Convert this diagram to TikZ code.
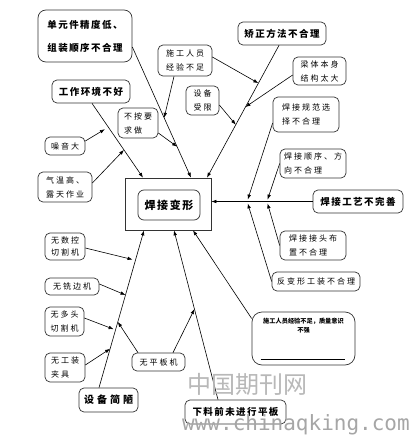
\documentclass[tikz,border=0pt]{standalone}
\usepackage{fontspec}
\setmainfont{Noto Sans CJK SC}
\newfontfamily\wmfont{DejaVu Sans Mono}
\usetikzlibrary{arrows.meta,calc}
\begin{document}
\begin{tikzpicture}[x=1pt,y=-1pt,
  box/.style={draw=black!80,line width=0.7pt,rounded corners=5pt,inner sep=0pt,align=left},
  lbl/.style={box,font=\fontsize{8}{14}\selectfont\addfontfeature{LetterSpace=25}},
  hd/.style={box,font=\fontsize{9.5}{14}\selectfont\bfseries\addfontfeature{LetterSpace=15}},
  con/.style={line width=0.6pt},
  arr/.style={con,-{Latex[length=5pt,width=3.6pt]}}]
\useasboundingbox (0,0) rectangle (414,442);
\fill[white] (0,0) rectangle (414,442);
% top-left group
\node[hd,minimum width=94pt,minimum height=52pt,rounded corners=8pt,font=\fontsize{9.5}{23}\selectfont\bfseries\addfontfeature{LetterSpace=15}] (n1) at (85,36) {单元件精度低、\\组装顺序不合理};
\node[lbl,minimum width=54pt,minimum height=31pt] (n2) at (185,60.5) {施工人员\\经验不足};
\node[hd,minimum width=88pt,minimum height=23pt] (n3) at (282,33.5) {矫正方法不合理};
\node[lbl,minimum width=53pt,minimum height=28pt] (n4) at (319.5,71) {梁体本身\\结构太大};
\node[lbl,minimum width=33pt,minimum height=29pt] (n5) at (202.5,100.5) {设备\\受限};
\node[lbl,minimum width=40pt,minimum height=30pt] (n6) at (138,123) {不按要\\求做};
\node[hd,minimum width=78pt,minimum height=23pt] (n7) at (91,91.5) {工作环境不好};
\node[lbl,minimum width=40pt,minimum height=18pt] (n8) at (65,146) {噪音大};
\node[lbl,minimum width=54pt,minimum height=30pt] (n9) at (65,187) {气温高、\\露天作业};
% centre
\node[draw=black!80,line width=0.7pt,minimum width=86pt,minimum height=52pt,inner sep=0pt] (ctr) at (168,204) {};
\node[box,rounded corners=6pt,minimum width=62pt,minimum height=30pt,font=\fontsize{11}{14}\selectfont\bfseries\addfontfeature{LetterSpace=15}] (ctri) at (169,205) {焊接变形};
% right group
\node[lbl,minimum width=66pt,minimum height=35pt] (n11) at (306,114.5) {焊接规范选\\择不合理};
\node[lbl,minimum width=66pt,minimum height=29pt] (n12) at (313,163.5) {焊接顺序、方\\向不合理};
\node[hd,minimum width=90pt,minimum height=23pt] (n13) at (358,201.5) {焊接工艺不完善};
\node[lbl,minimum width=66pt,minimum height=29pt] (n14) at (313,245.5) {焊接接头布\\置不合理};
\node[lbl,minimum width=88pt,minimum height=19pt] (n15) at (316,281.5) {反变形工装不合理};
\node[box,rounded corners=10pt,minimum width=103pt,minimum height=53pt] (n16) at (303.5,338.5) {};
\node[inner sep=0pt,align=center,anchor=north,font=\fontsize{6.2}{9}\selectfont\bfseries] (n16t) at ([yshift=-6pt]n16.north) {施工人员经验不足，质量意识\\不强};
\draw[con] ([xshift=9pt,yshift=6pt]n16.south west) -- ([xshift=-10pt,yshift=6pt]n16.south east);
% bottom-left group
\node[lbl,minimum width=40pt,minimum height=27pt,font=\fontsize{8}{12}\selectfont\addfontfeature{LetterSpace=25}] (n17) at (65,246.5) {无数控\\切割机};
\node[lbl,minimum width=54pt,minimum height=17pt] (n18) at (72,286.5) {无铣边机};
\node[lbl,minimum width=39pt,minimum height=29pt] (n19) at (64.5,321.5) {无多头\\切割机};
\node[lbl,minimum width=40pt,minimum height=29pt] (n20) at (65,367.5) {无工装\\夹具};
\node[hd,minimum width=59pt,minimum height=24pt,font=\fontsize{10}{14}\selectfont\bfseries\addfontfeature{LetterSpace=30}] (n21) at (108.5,400) {设备简陋};
\node[lbl,minimum width=53pt,minimum height=18pt] (n22) at (158.5,362) {无平板机};
\node[hd,minimum width=101pt,minimum height=24pt] (n23) at (235.5,412) {下料前未进行平板};
% spines
\draw[arr] ([yshift=-11pt]n1.east) -- ([xshift=23pt]ctr.north) coordinate[pos=0.542] (p1) coordinate[pos=0.763] (p2);
\draw[arr] ([xshift=1pt]n7.south) -- ([xshift=-25pt]ctr.north) coordinate[pos=0.32] (p3) coordinate[pos=0.627] (p4);
\draw[arr] ([xshift=-3pt]n3.south) -- ([xshift=39pt]ctr.north) coordinate[pos=0.286] (p5) coordinate[pos=0.466] (p6) coordinate[pos=0.60] (p7);
\draw[arr] ([xshift=-9.5pt]n21.north) -- ([xshift=-24pt]ctr.south) coordinate[pos=0.81] (q1) coordinate[pos=0.589] (q2) coordinate[pos=0.367] (q3) coordinate[pos=0.247] (q4) coordinate[pos=0.418] (q5);
\draw[arr] ([xshift=-17.5pt]n23.north) -- ([xshift=6pt]ctr.south) coordinate[pos=0.535] (q6);
\draw[arr] ([yshift=20pt]n16.west) -- ([xshift=25pt]ctr.south);
\draw[arr] (n13.west) -- (n13.west -| ctr.east) coordinate[pos=0.451] (r1) coordinate[pos=0.647] (r2);
% branch arrows
\draw[arr] ([xshift=-11pt]n2.south) -- (p1);
\draw[arr] ([yshift=3.5pt]n2.east) -- (p5);
\draw[arr] ([yshift=-10pt]n6.east) -- (p2);
\draw[arr] ([yshift=-4pt]n4.west) -- (p6);
\draw[arr] ([yshift=-4.5pt]n5.east) -- (p7);
\draw[arr,shorten >=4pt] ([yshift=5pt]n8.east) -- (p3);
\draw[arr] ([yshift=4pt]n9.east) -- (p4);
\draw[arr,shorten >=3pt] ([yshift=-1.5pt]n17.east) -- (q1);
\draw[arr] ([yshift=2.5pt]n18.east) -- (q2);
\draw[arr,shorten >=2pt] ([yshift=3.5pt]n19.east) -- (q3);
\draw[arr] ([yshift=2.5pt]n20.east) -- (q4);
\draw[arr] ([xshift=-20.5pt]n22.north) -- (q5);
\draw[arr] ([xshift=14.5pt]n22.north) -- (q6);
\draw[arr,shorten >=2pt] ([yshift=-8.5pt]n11.west) -- (r2);
\draw[arr,shorten >=2pt] (n12.west) -- (r1);
\draw[arr,shorten >=2pt] (n14.west) -- (r1);
\draw[arr,shorten >=2pt] (n15.west) -- (r2);
% watermark
\node[inner sep=0pt,text=black!28,font=\fontsize{24}{24}\selectfont] (wm1) at (247.5,384) {中国期刊网};
\node[inner sep=0pt,anchor=base west,text=black!35,font=\wmfont\fontsize{21}{21}\selectfont] (wm2) at (182,430) {www.chinaqking.com};
\end{tikzpicture}
\end{document}
